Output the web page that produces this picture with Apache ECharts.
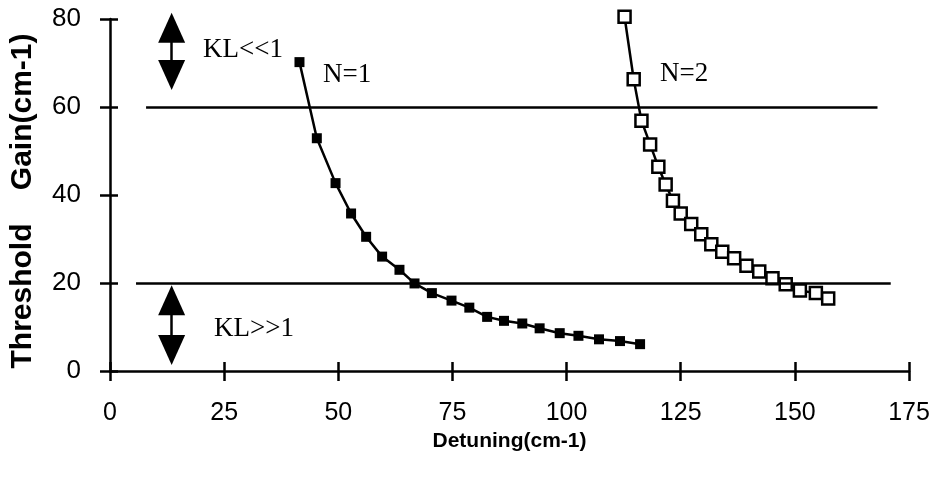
<!DOCTYPE html>
<html>
<head>
<meta charset="utf-8">
<script src="https://cdn.jsdelivr.net/npm/echarts@6/dist/echarts.min.js"></script>
<style>
  html, body { margin: 0; background: #fff; }
  #chart { width: 933px; height: 483px; }
</style>
</head>
<body>
<div id="chart"></div>
<script>
  // N=1 (filled squares)
  const n1X = [41.5, 45.3, 49.4, 52.8, 56.1, 59.6, 63.4, 66.7, 70.5, 74.8,
               78.7, 82.6, 86.3, 90.3, 94.1, 98.5, 102.6, 107.1, 111.7, 116.1]
  const n1Y = [70.2, 52.9, 42.7, 35.8, 30.5, 26.0, 23.0, 19.9, 17.7, 16.0,
               14.4, 12.3, 11.4, 10.8, 9.7, 8.6, 8.0, 7.2, 6.8, 6.1]
  // N=2 (open squares)
  const n2X = [112.7, 114.7, 116.4, 118.3, 120.1, 121.7, 123.3, 125.0, 127.3, 129.5,
               131.7, 134.1, 136.7, 139.4, 142.2, 145.1, 148.0, 151.1, 154.6, 157.3]
  const n2Y = [80.5, 66.3, 56.9, 51.5, 46.4, 42.4, 38.7, 35.8, 33.4, 31.1,
               28.8, 27.1, 25.6, 23.9, 22.6, 21.1, 19.7, 18.3, 17.7, 16.5]
  // horizontal limit lines: [y, xStart, xEnd]
  const upperLine = [60, 7.9, 168.1]
  const lowerLine = [20, 5.7, 171.0]
  // double arrows: [x, yTop, yBottom]
  const upperArrow = [13.5, 78.0, 67.3]
  const lowerArrow = [13.5, 16.1, 4.8]

  const black = '#000'
  const xAxisBase = { type: 'value', min: 0, max: 175, interval: 25 }
  const yAxisBase = { type: 'value', min: 0, max: 80, interval: 20 }

  const chart = echarts.init(document.getElementById('chart'))
  chart.setOption({
    animation: false,
    backgroundColor: '#fff',
    grid: { left: 110, right: 24, top: 19, bottom: 112 },
    xAxis: [
      Object.assign({}, xAxisBase, {
        name: 'Detuning(cm-1)',
        nameLocation: 'middle',
        nameGap: 58,
        nameTextStyle: { fontFamily: 'Liberation Sans', fontWeight: 'bold', fontSize: 21, color: black },
        axisLine: { lineStyle: { color: black, width: 2.5 } },
        axisTick: { length: 10, lineStyle: { color: black, width: 2.5 } },
        axisLabel: { margin: 30, fontFamily: 'Liberation Sans', fontSize: 25, color: black },
        splitLine: { show: false }
      }),
      Object.assign({}, xAxisBase, {
        position: 'bottom',
        axisLine: { show: false },
        axisTick: { inside: true, length: 9, lineStyle: { color: black, width: 2.5 } },
        axisLabel: { show: false },
        splitLine: { show: false }
      })
    ],
    yAxis: [
      Object.assign({}, yAxisBase, {
        name: 'Threshold    Gain(cm-1)',
        nameLocation: 'middle',
        nameGap: 72,
        nameTextStyle: { fontFamily: 'Liberation Sans', fontWeight: 'bold', fontSize: 30, color: black, padding: [0, 12, 0, 0] },
        axisLine: { lineStyle: { color: black, width: 2.5 } },
        axisTick: { length: 10, lineStyle: { color: black, width: 2.5 } },
        axisLabel: { margin: 29, fontFamily: 'Liberation Sans', fontSize: 26, color: black },
        splitLine: { show: false }
      }),
      Object.assign({}, yAxisBase, {
        position: 'left',
        axisLine: { show: false },
        axisTick: { inside: true, length: 8, lineStyle: { color: black, width: 2.5 } },
        axisLabel: { show: false },
        splitLine: { show: false }
      })
    ],
    series: [
      {
        name: 'N=1',
        type: 'line',
        clip: false,
        data: n1X.map((x, i) => [x, n1Y[i]]),
        symbol: 'rect',
        symbolSize: 10,
        itemStyle: { color: black },
        lineStyle: { color: black, width: 2.5 },
        markLine: {
          silent: true,
          label: { show: false },
          symbol: ['none', 'none'],
          lineStyle: { color: black, width: 2.5, type: 'solid' },
          data: [
            [{ coord: [upperLine[1], upperLine[0]] }, { coord: [upperLine[2], upperLine[0]] }],
            [{ coord: [lowerLine[1], lowerLine[0]] }, { coord: [lowerLine[2], lowerLine[0]] }],
            [{ coord: [upperArrow[0], upperArrow[1]], symbol: 'triangle', symbolSize: [27, 30] },
             { coord: [upperArrow[0], upperArrow[2]], symbol: 'triangle', symbolSize: [27, 30] }],
            [{ coord: [lowerArrow[0], lowerArrow[1]], symbol: 'triangle', symbolSize: [27, 30] },
             { coord: [lowerArrow[0], lowerArrow[2]], symbol: 'triangle', symbolSize: [27, 30] }]
          ]
        }
      },
      {
        name: 'N=2',
        type: 'line',
        clip: false,
        data: n2X.map((x, i) => [x, n2Y[i]]),
        symbol: 'rect',
        symbolSize: 12,
        itemStyle: { color: '#fff', borderColor: black, borderWidth: 2.5 },
        lineStyle: { color: black, width: 2.5 }
      }
    ],
    graphic: [
      { type: 'text', left: 203, top: 36, style: { text: 'KL<<1', fontFamily: 'Liberation Serif', fontSize: 27, fill: black } },
      { type: 'text', left: 214, top: 315, style: { text: 'KL>>1', fontFamily: 'Liberation Serif', fontSize: 27, fill: black } },
      { type: 'text', left: 323, top: 61, style: { text: 'N=1', fontFamily: 'Liberation Serif', fontSize: 27, fill: black } },
      { type: 'text', left: 660, top: 60, style: { text: 'N=2', fontFamily: 'Liberation Serif', fontSize: 27, fill: black } }
    ]
  })
</script>
</body>
</html>
